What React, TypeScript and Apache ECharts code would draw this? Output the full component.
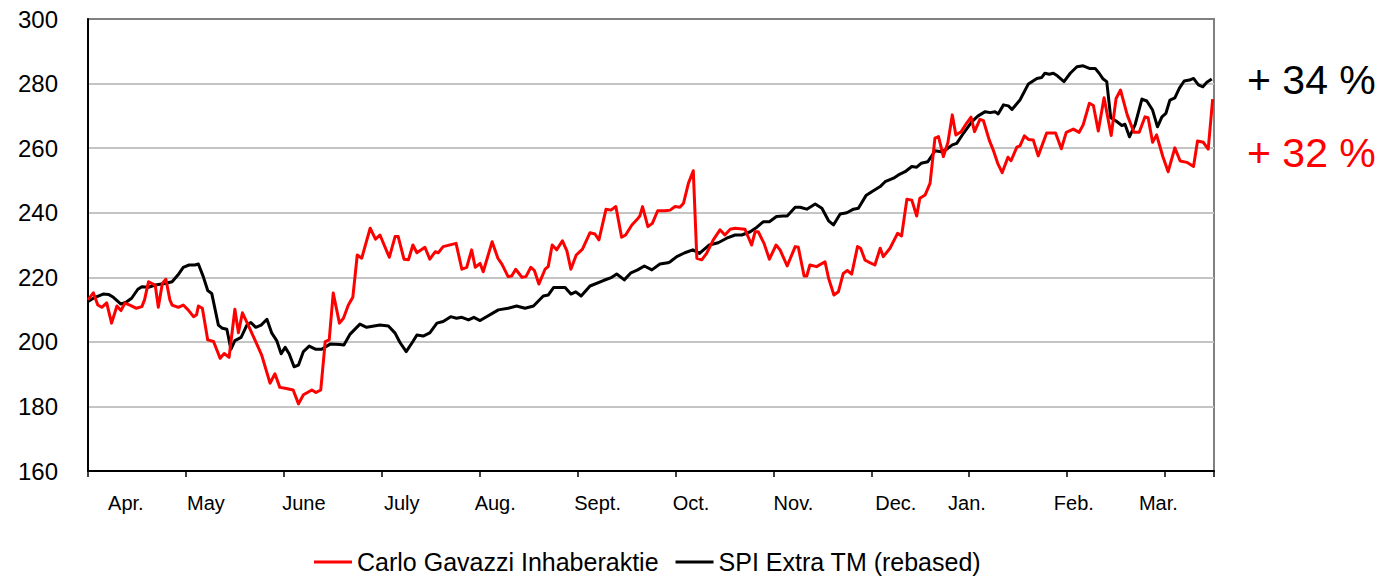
import React, { useEffect, useRef } from "react";
import * as echarts from "echarts";

// Trading-day index (0 = start of April) and index level
const gavazziPrices: [number, number][] = [
  [0, 213.0], [1.2, 215.2], [2.2, 211.4], [3.1, 210.7], [4.2, 212.1], [5.3, 205.8], [6.5, 211.1], [7.4, 209.7],
  [8.3, 212.0], [9.4, 211.4], [10.9, 210.4], [12.1, 210.9], [12.7, 213.0], [13.6, 218.6], [14.3, 218.1], [15.1, 217.6],
  [15.8, 210.7], [16.7, 218.1], [17.5, 219.4], [18.4, 213.0], [18.9, 211.4], [20.3, 210.7], [21.4, 211.4], [22.5, 209.9],
  [23.7, 207.8], [24.4, 208.4], [24.8, 211.1], [25.7, 210.4], [26.9, 200.6], [28.2, 200.1], [29.7, 194.9], [30.6, 196.4],
  [31.7, 195.2], [33.0, 210.1], [33.8, 202.8], [34.7, 209.0], [36.0, 205.2], [37.5, 200.6], [39.0, 196.0], [40.9, 187.2],
  [42.0, 190.1], [43.1, 185.9], [44.3, 185.6], [46.1, 185.1], [47.3, 180.8], [48.4, 183.6], [50.3, 185.1], [51.2, 184.3],
  [52.3, 185.1], [53.3, 200.1], [54.2, 200.6], [55.1, 215.1], [56.5, 205.8], [57.4, 207.3], [58.5, 211.4], [59.5, 213.8],
  [60.5, 226.9], [61.5, 225.9], [63.4, 235.2], [64.6, 231.8], [65.6, 233.1], [67.7, 226.2], [69.0, 232.6], [69.7, 232.6],
  [71.0, 225.6], [72.0, 225.4], [73.0, 230.0], [73.9, 227.6], [75.7, 229.3], [76.8, 225.6], [78.0, 227.9], [78.7, 227.6],
  [79.8, 229.5], [82.7, 230.5], [84.0, 222.5], [85.1, 223.1], [86.2, 228.5], [87.0, 223.1], [88.1, 224.3], [88.8, 221.7],
  [90.8, 231.0], [92.1, 225.9], [93.0, 224.1], [94.4, 220.2], [95.2, 220.4], [96.1, 222.5], [97.5, 220.0], [98.4, 220.2],
  [99.5, 223.1], [100.3, 222.1], [101.3, 217.9], [102.7, 222.5], [103.4, 223.3], [104.3, 230.0], [105.3, 228.5], [106.6, 231.3],
  [107.6, 228.2], [108.5, 222.5], [109.7, 226.9], [111.1, 228.7], [112.8, 233.8], [113.9, 233.4], [114.8, 231.6], [116.4, 241.1],
  [117.5, 240.8], [118.6, 241.9], [119.9, 232.4], [120.8, 233.1], [122.2, 236.2], [123.3, 237.8], [124.0, 239.0], [124.6, 241.9],
  [125.8, 235.7], [126.8, 236.7], [128.0, 240.6], [129.7, 240.6], [130.8, 240.8], [131.9, 241.9], [133.0, 241.7], [133.8, 242.9],
  [134.9, 249.1], [136.0, 253.0], [136.8, 225.9], [137.9, 225.4], [139.0, 227.4], [140.5, 231.6], [142.0, 234.7], [143.1, 233.1],
  [144.3, 234.9], [145.4, 235.2], [147.6, 234.9], [149.1, 230.0], [149.9, 234.1], [150.6, 234.1], [151.9, 230.5], [153.1, 225.6],
  [154.6, 230.0], [155.5, 228.5], [157.1, 223.5], [158.9, 229.5], [159.6, 229.3], [160.9, 220.4], [161.5, 220.4], [162.2, 223.8],
  [163.7, 223.3], [165.6, 224.8], [166.4, 219.7], [167.6, 214.5], [168.6, 215.5], [169.7, 221.2], [170.6, 222.1], [171.6, 221.0],
  [172.9, 229.5], [173.6, 229.0], [174.6, 225.3], [175.3, 224.8], [176.8, 223.8], [178.0, 229.0], [178.7, 226.4], [180.2, 229.0],
  [181.9, 233.6], [182.8, 232.8], [184.0, 244.2], [185.1, 243.9], [186.2, 239.0], [186.9, 244.5], [188.1, 245.5], [189.2, 249.1],
  [190.3, 263.1], [191.1, 263.6], [192.2, 257.4], [193.2, 261.7], [194.2, 270.3], [195.0, 264.1], [196.2, 265.1], [197.4, 267.7],
  [198.4, 269.6], [199.2, 265.1], [200.4, 268.9], [201.2, 268.5], [202.5, 262.5], [203.4, 259.4], [204.4, 255.3], [205.4, 252.4],
  [206.7, 257.2], [207.4, 256.1], [208.7, 260.3], [209.4, 260.7], [210.4, 263.8], [211.3, 262.7], [212.4, 262.5], [213.5, 257.6],
  [215.4, 264.7], [217.4, 264.7], [218.7, 259.8], [219.8, 264.9], [221.4, 265.9], [222.7, 264.9], [223.6, 267.2], [225.0, 273.9],
  [225.9, 273.2], [227.0, 265.3], [228.3, 275.6], [229.9, 263.9], [231.0, 275.4], [232.0, 278.0], [233.5, 270.3], [235.0, 264.9],
  [236.2, 264.9], [237.5, 269.7], [238.2, 269.4], [239.2, 261.8], [240.1, 264.1], [241.5, 257.4], [242.7, 252.7], [244.2, 260.1],
  [245.4, 256.0], [246.9, 255.6], [248.4, 254.3], [249.3, 262.2], [250.6, 261.8], [251.7, 259.7], [252.7, 275.2],
];

const spiPrices: [number, number][] = [
  [0, 212.5], [1.6, 213.8], [3.4, 214.8], [4.6, 214.7], [5.7, 213.8], [7.4, 211.7], [8.7, 212.4], [9.8, 213.5],
  [11.2, 216.3], [12.1, 217.1], [13.6, 216.9], [15.1, 217.6], [17.3, 218.1], [18.9, 218.6], [20.2, 220.7], [21.4, 223.1],
  [22.7, 223.8], [24.0, 223.8], [24.8, 224.1], [25.9, 220.2], [26.9, 215.9], [27.8, 215.0], [29.3, 205.2], [30.2, 204.2],
  [31.2, 203.9], [32.1, 197.7], [33.0, 200.4], [34.4, 201.4], [35.7, 205.2], [36.6, 206.0], [37.7, 204.5], [38.9, 205.2],
  [40.2, 207.0], [41.3, 202.7], [42.4, 200.4], [43.4, 196.3], [44.3, 198.3], [45.2, 196.3], [46.3, 192.3], [47.3, 192.8],
  [48.4, 197.0], [49.7, 198.7], [51.2, 197.7], [52.5, 197.7], [54.4, 199.3], [56.6, 199.2], [57.5, 199.0], [58.9, 202.4],
  [61.1, 205.5], [62.6, 204.5], [65.6, 205.2], [67.5, 204.9], [69.0, 202.7], [70.1, 199.8], [71.5, 197.0], [73.0, 200.1],
  [73.9, 202.1], [75.3, 201.8], [76.8, 202.8], [78.4, 205.8], [79.8, 206.3], [81.5, 207.8], [82.8, 207.3], [84.0, 207.6],
  [85.5, 206.8], [86.7, 207.6], [88.1, 206.6], [92.2, 209.9], [94.4, 210.4], [96.3, 211.1], [98.2, 210.4], [100.1, 211.1],
  [102.3, 214.2], [103.4, 214.5], [104.6, 216.8], [107.2, 216.8], [108.5, 214.8], [109.6, 215.5], [110.8, 214.2], [112.8, 217.3],
  [115.8, 219.0], [117.7, 220.0], [118.8, 221.0], [120.5, 219.2], [122.0, 221.4], [123.5, 222.3], [125.0, 223.5], [126.7, 222.3],
  [128.5, 224.1], [130.3, 224.5], [130.8, 224.8], [132.3, 226.4], [134.1, 227.6], [135.9, 228.5], [137.4, 227.4], [138.3, 228.5],
  [139.6, 230.0], [141.6, 230.7], [143.5, 232.1], [145.4, 233.1], [146.9, 233.1], [148.8, 234.1], [150.3, 235.5], [151.7, 237.2],
  [153.1, 237.2], [154.7, 238.8], [156.2, 239.0], [157.1, 239.0], [158.9, 241.7], [160.0, 241.7], [161.5, 241.1], [163.4, 242.7],
  [164.9, 241.4], [166.4, 237.5], [167.5, 236.2], [169.0, 239.6], [170.5, 240.0], [172.0, 241.1], [173.1, 241.4], [174.8, 245.3],
  [176.1, 246.5], [178.0, 248.1], [179.1, 249.6], [181.0, 250.7], [182.1, 251.7], [183.6, 252.7], [185.1, 254.3], [186.2, 254.1],
  [187.2, 255.3], [188.7, 255.8], [189.4, 257.2], [190.3, 259.2], [191.7, 258.9], [192.9, 259.6], [194.2, 261.0], [195.2, 261.5],
  [196.7, 264.6], [198.6, 268.2], [200.0, 270.0], [201.6, 271.3], [202.7, 271.0], [203.8, 271.3], [204.5, 270.6], [205.7, 273.4],
  [206.8, 273.1], [207.6, 272.0], [209.4, 274.9], [211.3, 279.9], [213.2, 281.6], [214.3, 281.9], [215.0, 283.2], [216.0, 282.9],
  [216.9, 283.2], [217.8, 282.4], [219.3, 280.6], [220.7, 283.2], [222.2, 285.2], [223.6, 285.5], [225.0, 284.7], [226.3, 284.7],
  [227.2, 283.2], [228.1, 281.4], [228.9, 280.6], [229.8, 269.4], [231.0, 268.4], [232.3, 267.0], [233.0, 267.4], [234.0, 263.5],
  [235.3, 267.4], [236.8, 275.2], [237.9, 274.6], [239.2, 271.8], [240.3, 266.6], [241.3, 269.7], [242.2, 270.8], [243.1, 274.9],
  [244.2, 275.6], [245.2, 278.5], [246.3, 280.8], [247.5, 281.1], [248.4, 281.6], [249.5, 279.6], [250.5, 279.0], [251.4, 280.4],
  [252.5, 281.4],
];

const tradingDays = 253;
const tickEvery = 22;
const monthLabels = ["Apr.", "May", "June", "July", "Aug.", "Sept.", "Oct.", "Nov.", "Dec.", "Jan.", "Feb.", "Mar."];
const monthLabelDays = [8, 26, 48, 70, 91, 114, 135, 158, 181, 197, 221, 240];
const seriesNames = ["Carlo Gavazzi Inhaberaktie", "SPI Extra TM (rebased)"];
const performanceLabels = ["+ 34 %", "+ 32 %"];
const yTicks = { min: 160, max: 300, step: 20 };

const FONT = "'Liberation Sans', Arial, sans-serif";

export default function App() {
  const ref = useRef<HTMLDivElement>(null);
  useEffect(() => {
    if (!ref.current) return;
    const chart = echarts.init(ref.current, null, { renderer: "svg" });
    const categories = Array.from({ length: tradingDays }, (_, i) => String(i));
    chart.setOption({
      animation: false,
      backgroundColor: "#fff",
      textStyle: { fontFamily: FONT },
      grid: {
        left: 88,
        right: 176,
        top: 19,
        bottom: 106,
        show: true,
        borderColor: "#808080",
        borderWidth: 2,
        backgroundColor: "transparent",
      },
      legend: {
        data: seriesNames.map((name) => ({ name, icon: "rect" })),
        left: 309,
        top: 544,
        padding: [5, 5, 5, 5],
        itemWidth: 38,
        itemHeight: 3,
        itemGap: 17,
        textStyle: { fontSize: 25, color: "#000", fontFamily: FONT, lineHeight: 26 },
      },
      xAxis: [
        {
          type: "category",
          data: categories,
          boundaryGap: true,
          position: "bottom",
          axisLine: { show: true, lineStyle: { color: "#000", width: 2 } },
          axisTick: {
            show: true,
            interval: tickEvery - 1,
            length: 6,
            lineStyle: { color: "#000", width: 1.5 },
          },
          axisLabel: {
            interval: (index: number) => monthLabelDays.includes(index),
            formatter: (_v: string, index: number) => {
              const k = monthLabelDays.indexOf(index);
              return k >= 0 ? monthLabels[k] : "";
            },
            fontSize: 20,
            color: "#000",
            margin: 22,
            fontFamily: FONT,
          },
          splitLine: { show: false },
        },
        {
          type: "value",
          min: 0,
          max: tradingDays,
          show: false,
          splitLine: { show: false },
        },
      ],
      yAxis: {
        type: "value",
        min: yTicks.min,
        max: yTicks.max,
        interval: yTicks.step,
        axisLine: { show: true, lineStyle: { color: "#000", width: 2 } },
        axisTick: { show: false },
        axisLabel: { fontSize: 24, color: "#000", margin: 30, fontFamily: FONT },
        splitLine: {
          show: true,
          showMinLine: false,
          showMaxLine: false,
          lineStyle: { color: "#c4c4c4", width: 2 },
        },
      },
      series: [
        {
          name: seriesNames[1],
          type: "line",
          xAxisIndex: 1,
          data: spiPrices,
          symbol: "none",
          smooth: false,
          z: 2,
          color: "#000",
          lineStyle: { color: "#000", width: 3, join: "round" },
        },
        {
          name: seriesNames[0],
          type: "line",
          xAxisIndex: 1,
          data: gavazziPrices,
          symbol: "none",
          smooth: false,
          z: 3,
          color: "#ff0000",
          lineStyle: { color: "#ff0000", width: 3, join: "round" },
        },
      ],
      graphic: [
        {
          type: "text",
          x: 1247,
          y: 80,
          style: {
            text: performanceLabels[0],
            fontSize: 41,
            fontFamily: FONT,
            fill: "#000",
            verticalAlign: "middle",
          },
        },
        {
          type: "text",
          x: 1247,
          y: 153,
          style: {
            text: performanceLabels[1],
            fontSize: 41,
            fontFamily: FONT,
            fill: "#ff0000",
            verticalAlign: "middle",
          },
        },
      ],
    });
    return () => chart.dispose();
  }, []);
  return (
    <div
      ref={ref}
      style={{ position: "absolute", left: 0, top: 0, width: 1390, height: 577 }}
    />
  );
}
